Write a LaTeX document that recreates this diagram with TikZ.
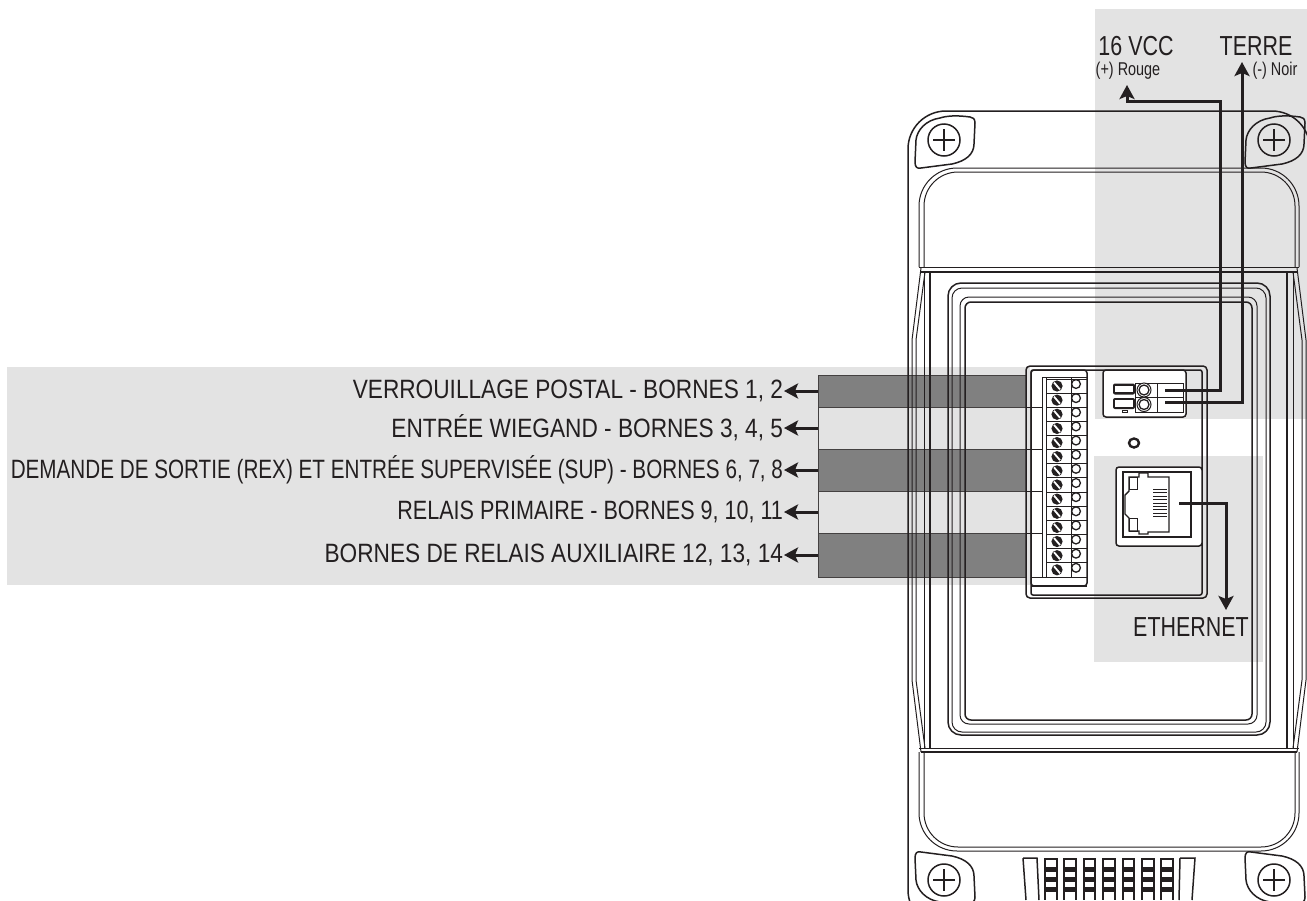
\documentclass[tikz,border=0pt]{standalone}
\usepackage{fontspec}
\setmainfont[FakeStretch=0.855]{Liberation Sans}
\newfontfamily\tightfont[FakeStretch=0.78]{Liberation Sans}
\newfontfamily\midfont[FakeStretch=0.814]{Liberation Sans}
\usetikzlibrary{arrows.meta}

\definecolor{lightband}{HTML}{E3E3E3}
\definecolor{darkband}{HTML}{808080}
\definecolor{ink}{HTML}{231F20}

\newcommand{\screw}[3]{
  \begin{scope}[shift={(#1,#2)}, yscale=#3]
    \draw [body] (26,-23) .. controls (12,-25) and (2,-24) .. (-4,-22) .. controls (-18,-20) and (-27,-10) .. (-28,0) -- (-29,22) .. controls (-29,27) and (-27,29) .. (-23,28) -- (8,24) .. controls (22,21) and (30,14) .. (30,4) -- (31,-17) .. controls (31,-21) and (29,-23) .. (26,-23);
    \draw [body] (0,0) circle (16);
    \draw [line width=2.4pt, ink] (-11,0) -- (11,0) (0,-11) -- (0,11);
  \end{scope}
}

\begin{document}
\begin{tikzpicture}[x=1pt, y=-1pt, every node/.style={text=ink}]
\tikzstyle{body} = [draw=ink, line width=1.5pt]
\tikzstyle{thin} = [draw=ink, line width=1pt]
\tikzstyle{band} = [rectangle, draw=ink!85, line width=1pt, minimum width=208pt, inner sep=0pt, outer sep=0pt]
\tikzstyle{big} = [font=\fontsize{26.5}{26.5}\selectfont, inner sep=0pt, outer sep=1pt, anchor=east]
\tikzstyle{top} = [font=\tightfont\fontsize{27.5}{27.5}\selectfont, inner sep=0pt]
\tikzstyle{small} = [font=\tightfont\fontsize{18.5}{18.5}\selectfont, inner sep=0pt]
\tikzstyle{arrow} = [draw=ink, line width=3pt, -{Stealth[length=14pt, width=15pt, inset=3pt]}]

\useasboundingbox (0,0) rectangle (1307,900);
\clip (0,0) rectangle (1307,900);

% grey backgrounds
\fill [lightband] (1095,9) rectangle (1307,419);
\fill [lightband] (1094,456) rectangle (1263,662);
\fill [lightband] (7,367) rectangle (1030,585);

% bands
\node (bandA) [band, fill=darkband, minimum height=32pt] at (922,391) {};
\node (bandB) [band, fill=lightband, minimum height=42pt] at (922,428) {};
\node (bandC) [band, fill=darkband, minimum height=42pt] at (922,470) {};
\node (bandD) [band, fill=lightband, minimum height=42pt] at (922,512) {};
\node (bandE) [band, fill=darkband, minimum height=44pt] at (922,555) {};

% labels
\node (labA) [big] at (784,391) {VERROUILLAGE POSTAL - BORNES 1, 2};
\node (labB) [big] at (784,428) {ENTRÉE WIEGAND - BORNES 3, 4, 5};
\node (labC) [big, font=\tightfont\fontsize{26.5}{26.5}\selectfont] at (784,470) {DEMANDE DE SORTIE (REX) ET ENTRÉE SUPERVISÉE (SUP) - BORNES 6, 7, 8};
\node (labD) [big, font=\midfont\fontsize{26.5}{26.5}\selectfont] at (784,512) {RELAIS PRIMAIRE - BORNES 9, 10, 11};
\node (labE) [big] at (784,555) {BORNES DE RELAIS AUXILIAIRE 12, 13, 14};

\node (vcc) [top] at (1136,46) {16 VCC};
\node (rouge) [small] at (1128,71) {(+) Rouge};
\node (terre) [top] at (1256,46) {TERRE};
\node (noir) [small] at (1275,71) {(-) Noir};
\node (ether) [top] at (1191,627) {ETHERNET};

% housing
\draw [body, rounded corners=38pt] (908,928) rectangle (1310,111);
\screw{944}{140}{1}
\screw{1274}{140}{1}
\screw{944}{880}{-1}
\screw{1274}{880}{-1}

\draw [thin, rounded corners=38pt] (919,267) -- (919,168) -- (1299,168) -- (1299,267);
\draw [thin, rounded corners=34pt] (924,267) -- (924,172) -- (1295,172) -- (1295,267);
\draw [thin, rounded corners=38pt] (919,752) -- (919,851) -- (1299,851) -- (1299,752);
\draw [thin, rounded corners=34pt] (924,752) -- (924,847) -- (1295,847) -- (1295,752);

\draw [thin] (919,267) -- (1299,267);
\draw [line width=2pt, ink] (921,272) -- (1297,272);
\draw [thin] (919,748) -- (1299,748);
\draw [line width=2pt, ink] (921,752) -- (1297,752);

\draw [thin] (921,268) -- (912,340) -- (912,680) -- (921,752);
\draw [thin] (925,272) -- (916,340) -- (916,680) -- (925,748);
\draw [thin] (1297,268) -- (1306,340) -- (1306,680) -- (1297,752);
\draw [thin] (1293,272) -- (1302,340) -- (1302,680) -- (1293,748);
\draw [thin] (924,272) -- (924,748);
\draw [body] (930,272) -- (930,748);
\draw [body] (1287,272) -- (1287,748);
\draw [thin] (1293,272) -- (1293,748);

% window frames
\draw [body, rounded corners=13pt] (948,283) rectangle (1270,735);
\draw [thin, rounded corners=10pt] (952,288) rectangle (1266,732);
\draw [thin, rounded corners=9pt] (960,297) rectangle (1257,724);
\draw [body, rounded corners=6pt] (965,302) rectangle (1252,720);

% grille
\draw [body] (1023,858) -- (1037,858) -- (1039,900) (1023,858) -- (1026,900);
\draw [body] (1180,858) -- (1195,858) -- (1192,900) (1180,858) -- (1179,900);
\foreach \x in {0,...,6} {
  \fill [ink] (1044+19.4*\x,858) rectangle ++(13.5,42);
  \foreach \y/\h in {859.5/7.5, 872/5, 882/5, 892/8} {
    \fill [white] (1046+19.4*\x,\y) rectangle ++(9.5,\h);
  }
}

% module frame
\draw [body, fill=white, rounded corners=3pt] (1031,370) rectangle (1087,586);
\draw [body, rounded corners=4pt] (1026,366) rectangle (1207,598);
\draw [body, rounded corners=2pt] (1031,370) rectangle (1202,595);
\draw [line width=2pt, ink] (1031,586) -- (1087,586);
\draw [thin] (1031,577) -- (1087,577);
\foreach \y in {407,449,491,533} {
  \draw [thin] (1026,\y) -- (1042,\y);
}

% terminal strip
\draw [thin] (1042,377) -- (1042,577) (1046,377) -- (1046,577) (1071,377) -- (1071,577);
\draw [thin] (1042,377) -- (1087,377);
\foreach \i in {0,...,13} {
  \draw [thin] (1046,379+14.14*\i) -- (1087,379+14.14*\i);
  \fill [ink] (1057,386+14.14*\i) circle (5.6);
  \draw [white, line width=1.8pt] (1054,382.5+14.14*\i) -- (1060,389.5+14.14*\i);
  \draw [thin, fill=white, line width=1.3pt] (1076,384+14.14*\i) circle (4.4);
}

% power connector
\draw [body, fill=white, rounded corners=3pt] (1103,370) rectangle (1186,417);
\draw [thin] (1135,383) rectangle (1183,412);
\draw [thin] (1135,397) -- (1183,397) (1157,383) -- (1157,412);
\foreach \y in {389,403.5} {
  \fill [ink, rounded corners=2pt] (1113,\y-5.5) rectangle (1135,\y+5.5);
  \draw [white, fill=white] (1115.5,\y-3) rectangle (1132.5,\y+2.5);
  \draw [thin, fill=white] (1144,\y+1) circle (7);
  \draw [thin, line width=1.3pt] (1144,\y+1) circle (5);
}
\draw [thin] (1122,410) rectangle (1127,412);

% led
\draw [line width=2.4pt, ink, fill=white] (1134,443) ellipse (5 and 4.5);

% ethernet jack
\draw [body, fill=white, rounded corners=3pt] (1116,467) rectangle (1202,546);
\draw [body] (1123,472) rectangle (1191,537);
\draw [line width=1.4pt, ink] (1129,477) -- (1139,477) -- (1139,473) -- (1148,473) -- (1148,477) -- (1169,477) -- (1169,532) -- (1148,532) -- (1148,534) -- (1139,534) -- (1139,531) -- (1129,531) -- (1129,518) -- (1125,514) -- (1125,495) -- (1129,491) -- cycle;
\draw [thin] (1129,477) rectangle (1137,489);
\draw [thin] (1129,518) rectangle (1137,531);
\foreach \i in {0,...,8} {
  \draw [thin, line width=1pt] (1153,489.5+3.4*\i) -- (1167,489.5+3.4*\i);
}

% connectors
\coordinate (plusA) at (1165,390);
\coordinate (plusB) at (1220,101);
\coordinate (plusEnd) at (1127,85);
\coordinate (minusA) at (1165,402);
\coordinate (minusEnd) at (1242,62);
\coordinate (jackA) at (1179,503);
\coordinate (jackEnd) at (1226,610);

\draw [arrow] (plusA) -| (plusB) -| (plusEnd);
\draw [arrow] (minusA) -| (minusEnd);
\draw [arrow] (jackA) -| (jackEnd);

\draw [arrow] (bandA.west) -- (labA.east);
\draw [arrow] (bandB.west) -- (labB.east);
\draw [arrow] (bandC.west) -- (labC.east);
\draw [arrow] (bandD.west) -- (labD.east);
\draw [arrow] (bandE.west) -- (labE.east);
\end{tikzpicture}
\end{document}
